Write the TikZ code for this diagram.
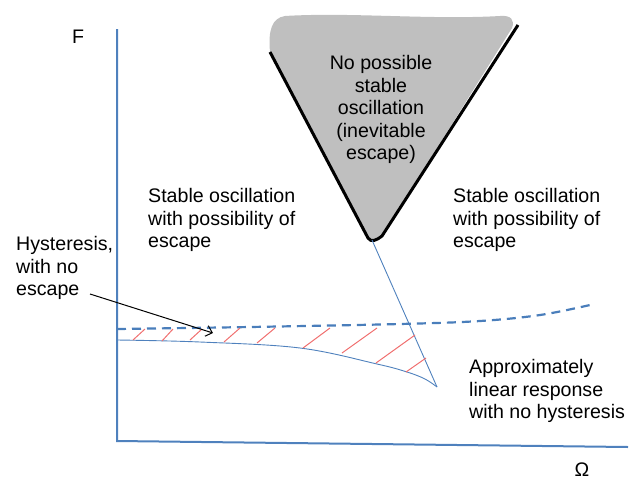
\documentclass[tikz,border=0pt]{standalone}
\usepackage{fontspec}
\setmainfont{Liberation Sans}
\usetikzlibrary{arrows.meta}
\definecolor{axisblue}{RGB}{79,129,189}
\definecolor{dashcol}{RGB}{74,126,187}
\definecolor{hatchred}{RGB}{240,110,110}
\definecolor{regiongrey}{RGB}{191,191,191}
\begin{document}
\begin{tikzpicture}[x=1pt,y=-1pt,
  lbl/.style={inner sep=0pt,align=left,anchor=north west,font=\fontsize{19.6}{22.6}\selectfont},
  axis/.style={axisblue,line width=2pt},
  thinblue/.style={axisblue,line width=0.9pt},
  dashblue/.style={dashcol,line width=2.2pt,dash pattern=on 9pt off 6pt},
  hatch/.style={hatchred,line width=1pt},
  bound/.style={black,line width=3pt}]
\useasboundingbox (0,0) rectangle (629,480);
% axes
\coordinate (O) at (117,441);
\coordinate (Ytop) at (117,29);
\coordinate (Xend) at (628,447);
\draw[axis] (Ytop) -- (O) -- (Xend);
% grey region
\fill[regiongrey] (270,52) -- (369,239) .. controls (372,243) and (378,240) .. (382,236)
  -- (512,28) .. controls (515,20) and (511,15) .. (500,16)
  .. controls (430,20) and (350,12) .. (285,16)
  .. controls (272,18) and (268,30) .. (270,52) -- cycle;
\coordinate (Vl) at (270,52);
\coordinate (Vr) at (518,25);
\draw[bound,line join=round] (Vl) -- (368,238) .. controls (371,243) and (377,240) .. (382,236) -- (Vr);
% thin line from tip
\coordinate (Tip) at (372,240);
\coordinate (End) at (437,387);
\draw[thinblue] (Tip) -- (End);
% lower curve
\draw[thinblue] plot[smooth,tension=0.6] coordinates {(117,340) (200,342) (300,348) (377,364) (407,372) (425,379) (437,387)};
% dashed curve
\draw[dashblue] plot[smooth,tension=0.6] coordinates {(117,329) (250,327) (400,324) (480,321) (540,315) (590,305)};
% hatches
\foreach \a/\b/\c/\d in {133/340/145/329, 162/341/173/329, 190/340/202/329, 224/342/240/328, 257/343/275/328, 303/348/330/328, 342/353/377/328, 376/363/415/335, 406/372/426/358}
  \draw[hatch] (\a,\b) -- (\c,\d);
% labels
\node[lbl] (F) at (72,30) {F};
\node[lbl,anchor=center] (Om) at (582,470) {Ω};
\node[lbl,align=center,anchor=north] (nps) at (381,55) {No possible\\stable\\oscillation\\(inevitable\\escape)};
\node[lbl] (sl) at (148,188) {Stable oscillation\\with possibility of\\escape};
\node[lbl] (sr) at (453,188) {Stable oscillation\\with possibility of\\escape};
\node[lbl] (hy) at (16,236) {Hysteresis,\\with no\\escape};
\node[lbl] (ap) at (469,359) {Approximately\\linear response\\with no hysteresis};
% arrow
\coordinate (As) at (90,294);
\coordinate (Ae) at (213,333);
\draw[black,line width=1pt,-{Straight Barb[length=6pt,width=11pt]}] (As) -- (Ae);
\end{tikzpicture}
\end{document}
